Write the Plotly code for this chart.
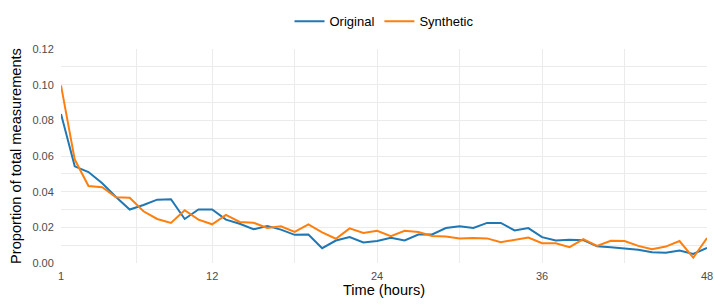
import plotly.graph_objects as go

hours = list(range(1, 49))

original = [0.0836, 0.0542, 0.0510, 0.0447, 0.0370, 0.0300, 0.0325, 0.0355, 0.0358, 0.0247,
            0.0300, 0.0300, 0.0243, 0.0220, 0.0189, 0.0208, 0.0187, 0.0158, 0.0160, 0.0083,
            0.0126, 0.0145, 0.0115, 0.0123, 0.0142, 0.0126, 0.0160, 0.0160, 0.0196, 0.0206,
            0.0196, 0.0225, 0.0225, 0.0183, 0.0196, 0.0145, 0.0126, 0.0130, 0.0128, 0.0094,
            0.0089, 0.0081, 0.0074, 0.0060, 0.0057, 0.0070, 0.0051, 0.0085]

synthetic = [0.0996, 0.0580, 0.0432, 0.0425, 0.0368, 0.0366, 0.0290, 0.0247, 0.0225, 0.0296,
             0.0243, 0.0217, 0.0270, 0.0230, 0.0226, 0.0196, 0.0206, 0.0174, 0.0217, 0.0172,
             0.0136, 0.0194, 0.0168, 0.0181, 0.0151, 0.0181, 0.0174, 0.0151, 0.0149, 0.0138,
             0.0140, 0.0138, 0.0117, 0.0132, 0.0143, 0.0111, 0.0111, 0.0089, 0.0134, 0.0096,
             0.0125, 0.0123, 0.0096, 0.0077, 0.0092, 0.0123, 0.0030, 0.0140]

x_ticks = [1, 12, 24, 36, 48]
x_minor = [6.5, 18, 30, 42]
y_ticks = [0.00, 0.02, 0.04, 0.06, 0.08, 0.10, 0.12]
y_minor = [0.01, 0.03, 0.05, 0.07, 0.09, 0.11]

fig = go.Figure()
fig.add_trace(go.Scatter(x=hours, y=original, mode="lines", name="Original",
                         line=dict(color="#1F77B4", width=2)))
fig.add_trace(go.Scatter(x=hours, y=synthetic, mode="lines", name="Synthetic",
                         line=dict(color="#FF7F0E", width=2)))

grid = "#EBEBEB"
fig.update_layout(
    width=714, height=304,
    margin=dict(l=61, r=7, t=49, b=41, autoexpand=False),
    paper_bgcolor="white", plot_bgcolor="white",
    font=dict(family="Liberation Sans, Arial, sans-serif", size=14, color="black"),
    legend=dict(orientation="h", x=0.5, xanchor="center", y=0.93, yanchor="middle",
                yref="container", font=dict(size=13), itemwidth=30),
    showlegend=True,
)
fig.update_xaxes(
    range=[1, 48], tickvals=x_ticks, ticktext=[str(v) for v in x_ticks],
    showgrid=True, gridcolor=grid, gridwidth=1.3, zeroline=False, showline=False,
    ticks="outside", ticklen=3, tickcolor="rgba(0,0,0,0)",
    tickfont=dict(size=11, color="#4D4D4D"),
    minor=dict(tickvals=x_minor, showgrid=True, gridcolor=grid, gridwidth=0.6),
    title=dict(text="Time (hours)", font=dict(size=14.6), standoff=3),
)
fig.update_yaxes(
    range=[0, 0.12], tickvals=y_ticks, ticktext=[f"{v:.2f}" for v in y_ticks],
    showgrid=True, gridcolor=grid, gridwidth=1.3, zeroline=False, showline=False,
    ticks="outside", ticklen=4, tickcolor="rgba(0,0,0,0)",
    tickfont=dict(size=11, color="#4D4D4D"),
    minor=dict(tickvals=y_minor, showgrid=True, gridcolor=grid, gridwidth=0.6),
    title=dict(text="Proportion of total measurements", font=dict(size=14.6), standoff=7),
)

fig.write_html("out.html", config={"displayModeBar": False},
               post_script="document.body.style.margin='0';")
